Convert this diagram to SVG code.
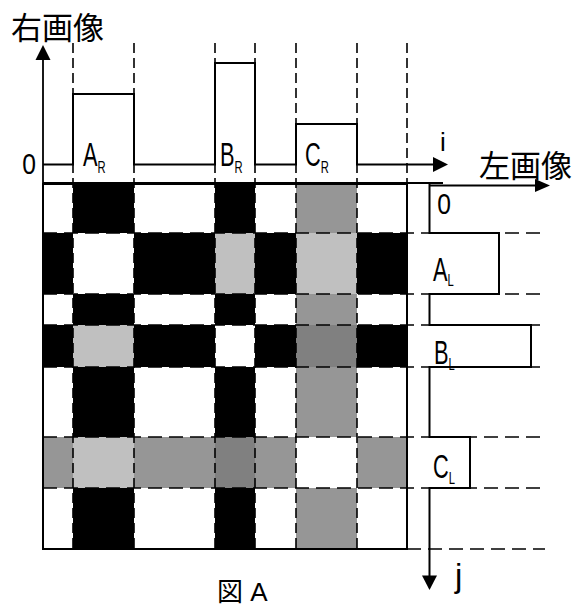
<svg xmlns="http://www.w3.org/2000/svg" width="573" height="608" viewBox="0 0 573 608">
<style>
.bg{fill:#ffffff}
.k{fill:#000000}
.g{fill:#969696}
.l{fill:#c0c0c0}
.d{fill:#808080}
.w{fill:#ffffff}
.wave{fill:none;stroke:#000;stroke-width:2}
.axis{fill:none;stroke:#000;stroke-width:1.8}
.vd{fill:none;stroke:#000;stroke-width:1.6;stroke-dasharray:10 5}
.hd{fill:none;stroke:#000;stroke-width:1.6;stroke-dasharray:14 7}
.cjk{font-family:"Noto Sans CJK JP","Noto Sans CJK SC",sans-serif;font-size:31px;fill:#000}
.lbl{font-family:"Liberation Sans",Arial,sans-serif;font-size:33px;fill:#000}
.sub{font-size:17px}
.small{font-family:"Liberation Sans",Arial,sans-serif;font-size:26px;fill:#000}
.num{font-family:"Liberation Sans",Arial,sans-serif;font-size:29px;fill:#000}
.fig{font-family:"Liberation Sans","Noto Sans CJK JP",sans-serif;font-size:26px;fill:#000}
</style>
<rect class="bg" x="0" y="0" width="573" height="608"/>

<g id="grid">
  <rect class="w" x="43" y="184" width="364" height="365"/>
  <rect class="k" x="73" y="184" width="61" height="365"/>
  <rect class="k" x="215" y="184" width="40" height="365"/>
  <rect class="g" x="296" y="184" width="61" height="365"/>
  <rect class="k" x="43" y="233" width="364" height="61"/>
  <rect class="k" x="43" y="325" width="364" height="42"/>
  <rect class="g" x="43" y="437" width="364" height="51"/>
  <rect class="w" x="73" y="233" width="61" height="61"/>
  <rect class="l" x="215" y="233" width="40" height="61"/>
  <rect class="l" x="296" y="233" width="61" height="61"/>
  <rect class="l" x="73" y="325" width="61" height="42"/>
  <rect class="w" x="215" y="325" width="40" height="42"/>
  <rect class="d" x="296" y="325" width="61" height="42"/>
  <rect class="l" x="73" y="437" width="61" height="51"/>
  <rect class="d" x="215" y="437" width="40" height="51"/>
  <rect class="w" x="296" y="437" width="61" height="51"/>
</g>

<g id="guides">
  <path class="vd" d="M73,43V549M134,43V549M215,43V549M255,43V549M296,43V549M357,43V549M407,43V184"/>
  <path class="hd" d="M43,233H545M43,294H545M43,325H545M43,367H545M43,437H545M43,488H545M407,549H545"/>
</g>

<g id="connectors">
  <rect x="43" y="184" width="364" height="365" fill="none" stroke="#000" stroke-width="2"/>
  <path class="axis" d="M43,183H443"/>
  <path class="axis" d="M43,549V58"/>
  <polygon points="43,45 35.5,60 50.5,60" fill="#000"/>
  <path class="wave" d="M43,164.5H73V94H134V164.5H215V63H255V164.5H296V124H357V164.5H435"/>
  <polygon points="448,164.5 433,157 433,172" fill="#000"/>
  <path class="axis" d="M429.5,185.5H537"/>
  <polygon points="550,185.5 535,179 535,192" fill="#000"/>
  <path class="wave" d="M429.5,184V233H499V294H429.5V325H531V367H429.5V437H470V488H429.5V577"/>
  <polygon points="429.5,590 422,575.5 437,575.5" fill="#000"/>
</g>

<g id="label-right-image"><text class="cjk" x="11" y="39">右画像</text></g>
<g id="label-left-image"><text class="cjk" x="479" y="177">左画像</text></g>
<g id="label-zero-right"><text class="num" transform="translate(29,174) scale(0.85,1)" text-anchor="middle">0</text></g>
<g id="label-zero-left"><text class="num" transform="translate(444,214) scale(0.85,1)" text-anchor="middle">0</text></g>
<g id="label-i"><text class="small" x="440" y="151">i</text></g>
<g id="label-j"><text class="lbl" x="455" y="587">j</text></g>

<g id="AR"><text class="lbl" transform="translate(83,166) scale(0.66,1)">A<tspan class="sub" dy="7">R</tspan></text></g>
<g id="BR"><text class="lbl" transform="translate(220,166) scale(0.66,1)">B<tspan class="sub" dy="7">R</tspan></text></g>
<g id="CR"><text class="lbl" transform="translate(305,166) scale(0.66,1)">C<tspan class="sub" dy="7">R</tspan></text></g>
<g id="AL"><text class="lbl" transform="translate(433,281) scale(0.66,1)">A<tspan class="sub" dy="5">L</tspan></text></g>
<g id="BL"><text class="lbl" transform="translate(434,364) scale(0.66,1)">B<tspan class="sub" dy="6">L</tspan></text></g>
<g id="CL"><text class="lbl" transform="translate(433,478) scale(0.66,1)">C<tspan class="sub" dy="6">L</tspan></text></g>

<g id="caption"><text class="fig" x="217" y="601">図 A</text></g>
</svg>
